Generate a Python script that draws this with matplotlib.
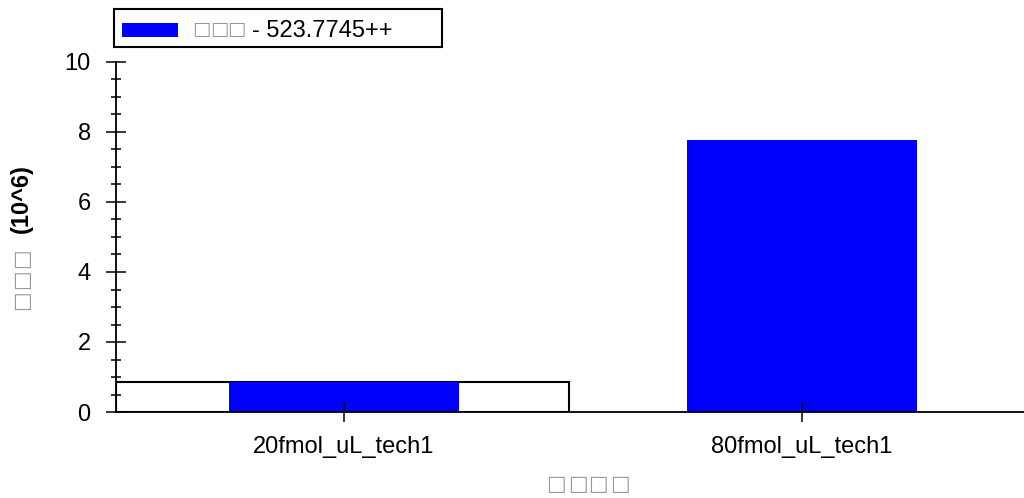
import matplotlib
matplotlib.use('Agg')
import matplotlib.pyplot as plt
from matplotlib.patches import Rectangle
from matplotlib.ticker import MultipleLocator

# data
categories = ['20fmol_uL_tech1', '80fmol_uL_tech1']
intensity = [0.866, 7.77]          # x 10^6
highlight_idx = 0                  # selected sample (boxed)
legend_label = '- 523.7745++'
ylabel_unit = '(10^6)'
# the original labels show as missing-glyph boxes
ylabel_text = '\u25a1\u25a1\u25a1'
xlabel_text = '\u25a1\u25a1\u25a1\u25a1'
legend_name = '\u25a1\u25a1\u25a1'

W, H = 1024, 498
plt.rcParams['font.family'] = ['Liberation Sans', 'DejaVu Sans']

fig = plt.figure(figsize=(W / 100, H / 100), dpi=100)
ax = fig.add_axes([116 / W, (H - 412) / H, (W - 116) / W, 350 / H])

def fx(px):
    return px / W

def fy(py):
    return 1 - py / H

def boxed_label(text, x0, y0, step, size, vertical=False):
    # lay the missing-glyph boxes out one by one, like the renderer did
    for i, ch in enumerate(text):
        if vertical:
            px, py, rot = x0, y0 - i * step, 90
        else:
            px, py, rot = x0 + i * step, y0, 0
        fig.text(fx(px), fy(py), ch, rotation=rot, ha='center', va='center',
                 family='DejaVu Sans', fontsize=size, color='#999999')

x = list(range(len(categories)))

# selection box behind the first bar
ax.bar(x[highlight_idx] - 0.0035, intensity[highlight_idx], width=0.99,
       facecolor='white', edgecolor='black', linewidth=1.5, zorder=0.5)
ax.bar(x, intensity, width=0.502, color='#0000ff', zorder=1)

ax.set_xlim(-0.498, 1.485)
ax.set_ylim(0, 10)
ax.set_xticks(x)
ax.set_xticklabels(categories)
ax.yaxis.set_major_locator(MultipleLocator(2))
ax.yaxis.set_minor_locator(MultipleLocator(0.5))

for s in ('top', 'right'):
    ax.spines[s].set_visible(False)
for s in ('left', 'bottom'):
    ax.spines[s].set_linewidth(1.3)
    ax.spines[s].set_color('black')

ax.tick_params(axis='both', which='major', direction='inout', length=14.4,
               width=1.1, labelsize=17, pad=10)
ax.tick_params(axis='y', which='minor', direction='inout', length=7.2, width=1.1)
ax.tick_params(axis='y', which='major', pad=11)

# axis titles (missing-glyph boxes in grey, unit in bold)
fig.text(fx(21.5), fy(199), ylabel_unit, rotation=90, ha='center', va='center',
         fontsize=17, fontweight='bold', color='black')
boxed_label(ylabel_text, 21, 300, 21, 15, vertical=True)
boxed_label(xlabel_text, 556.5, 484, 21, 15)

# legend box
fig.add_artist(Rectangle((fx(114), fy(47.5)), fx(442 - 114), (47.5 - 9.5) / H,
                         transform=fig.transFigure, facecolor='white',
                         edgecolor='black', linewidth=1.5))
fig.add_artist(Rectangle((fx(122), fy(37)), fx(178 - 122), 14 / H,
                         transform=fig.transFigure, facecolor='#0000ff',
                         edgecolor='none'))
boxed_label(legend_name, 201.5, 29.5, 17.5, 14)
fig.text(fx(252), fy(37.3), legend_label, ha='left', va='baseline',
         fontsize=17, color='black')

fig.savefig('out.png', dpi=100)
